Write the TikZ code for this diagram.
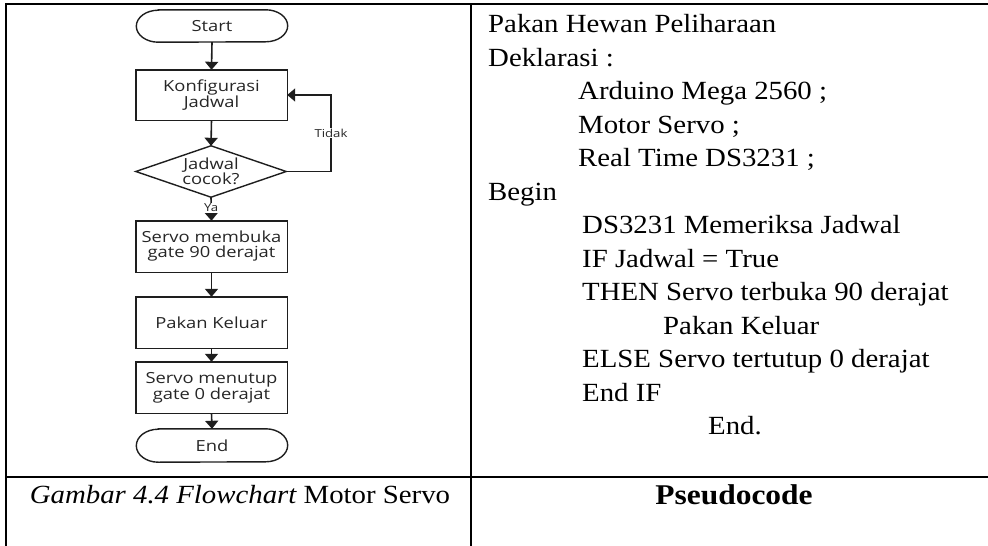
\documentclass[tikz,border=0pt]{standalone}
\usepackage{fontspec}
\usetikzlibrary{arrows.meta}
\newfontfamily\fcfont[FakeStretch=1.2]{Open Sans}
\newfontfamily\tnr[FakeStretch=1.1]{Liberation Serif}
\definecolor{fcline}{HTML}{1E1E1E}
\definecolor{fctext}{HTML}{262626}
\begin{document}
\begin{tikzpicture}[x=1pt,y=-1pt,
  tbl/.style={line width=2pt,black},
  fcbox/.style={minimum width=151pt,inner sep=0pt,align=center,font=\fcfont\fontsize{15.3}{15}\selectfont,text=fctext},
  fcdraw/.style={line width=1.4pt,draw=fcline},
  conn/.style={line width=1.6pt,draw=fcline,-{Triangle[width=13pt,length=8pt]}},
  lbl/.style={fill=white,inner sep=1pt,font=\fcfont\fontsize{11}{11}\selectfont,text=fctext},
  pc/.style={anchor=base west,inner sep=0pt,font=\tnr\fontsize{26.2}{28}\selectfont}]
\useasboundingbox (0,0) rectangle (988,546);
% table
\draw[tbl] (5,4.3) -- (988,4.3);
\draw[tbl] (6,3.3) -- (6,546);
\draw[tbl] (471,3.3) -- (471,546);
\draw[tbl] (6,477) -- (988,477);
% flowchart nodes
\node[fcbox,minimum height=32pt] (start) at (212,26) {Start};
\node[fcbox,minimum height=50pt] (konf) at (211.5,95) {Konfigurasi\\Jadwal};
\node[fcbox,minimum width=150pt,minimum height=51pt] (dec) at (211,171.5) {Jadwal\\cocok?};
\node[fcbox,minimum height=51pt] (s1) at (211.5,246.5) {Servo membuka\\gate 90 derajat};
\node[fcbox,minimum height=51pt] (pk) at (211.5,322.5) {Pakan Keluar};
\node[fcbox,minimum height=51pt] (s2) at (211.5,387.5) {Servo menutup\\gate 0 derajat};
\node[fcbox,minimum height=33pt] (end) at (212,445.5) {End};
% shapes
\draw[fcdraw] ([xshift=22pt]start.north west) -- ([xshift=-22pt]start.north east)
  arc[start angle=90,end angle=-90,x radius=22pt,y radius=16pt]
  -- ([xshift=22pt]start.south west)
  arc[start angle=270,end angle=90,x radius=22pt,y radius=16pt] -- cycle;
\draw[fcdraw] ([xshift=22pt]end.north west) -- ([xshift=-22pt]end.north east)
  arc[start angle=90,end angle=-90,x radius=22pt,y radius=16.5pt]
  -- ([xshift=22pt]end.south west)
  arc[start angle=270,end angle=90,x radius=22pt,y radius=16.5pt] -- cycle;
\draw[fcdraw] (konf.north west) rectangle (konf.south east);
\draw[fcdraw] (s1.north west) rectangle (s1.south east);
\draw[fcdraw] (pk.north west) rectangle (pk.south east);
\draw[fcdraw] (s2.north west) rectangle (s2.south east);
\draw[fcdraw] (dec.west) -- (dec.north) -- (dec.east) -- (dec.south) -- cycle;
% connectors
\draw[conn] (start.south) -- (konf.north);
\draw[conn] (konf.south) -- (dec.north);
\draw[conn] (dec.south) -- node[lbl,pos=0.45] {Ya} (s1.north);
\draw[conn] (s1.south) -- (pk.north);
\draw[conn] (pk.south) -- (s2.north);
\draw[conn] (s2.south) -- (end.north);
\coordinate (loop) at (331,171.5);
\draw[conn] (dec.east) -- (loop) |- node[lbl,pos=0.25] {Tidak} (konf.east);
% pseudocode
\node[pc] (p1) at (488,32.5) {Pakan Hewan Peliharaan};
\node[pc] (p2) at (488,66) {Deklarasi :};
\node[pc] (p3) at (578,99.5) {Arduino Mega 2560 ;};
\node[pc] (p4) at (578,133) {Motor Servo ;};
\node[pc] (p5) at (578,166.5) {Real Time DS3231 ;};
\node[pc] (p6) at (488,200) {Begin};
\node[pc] (p7) at (582,233.5) {DS3231 Memeriksa Jadwal};
\node[pc] (p8) at (582,267) {IF Jadwal = True};
\node[pc] (p9) at (582,300.5) {THEN Servo terbuka 90 derajat};
\node[pc] (p10) at (663,334) {Pakan Keluar};
\node[pc] (p11) at (582,367.5) {ELSE Servo tertutup 0 derajat};
\node[pc] (p12) at (582,401) {End IF};
\node[pc] (p13) at (708,434.5) {End.};
% captions
\node[anchor=base,inner sep=0pt,font=\tnr\fontsize{26.2}{28}\selectfont] (cap1) at (240,503) {\itshape Gambar 4.4 Flowchart\upshape{} Motor Servo};
\node[anchor=base,inner sep=0pt,font=\tnr\fontsize{28.6}{30}\selectfont\bfseries] (cap2) at (734,504) {Pseudocode};
\end{tikzpicture}
\end{document}
